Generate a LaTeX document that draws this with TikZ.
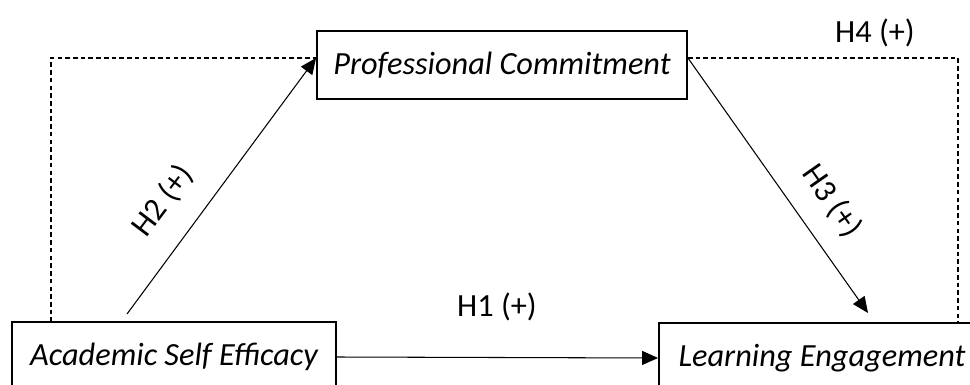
\documentclass[tikz,border=0pt]{standalone}
\usepackage{fontspec}
\setmainfont{Carlito}
\usetikzlibrary{arrows.meta}
\tikzset{>={Triangle[length=0.32cm,width=0.28cm]}}
\tikzset{varbox/.style={draw, line width=1.1pt, minimum height=1.4cm, inner sep=0pt, font=\fontsize{18.4}{22}\selectfont\itshape},
  hyplabel/.style={font=\fontsize{18.4}{22}\selectfont},
  link/.style={->, line width=0.6pt},
  mediation/.style={line width=0.6pt, dash pattern=on 2.6pt off 1.8pt}}

\begin{document}
\begin{tikzpicture}[x=0.02cm, y=-0.02cm]
\useasboundingbox (0,0) rectangle (970,385);
\node[varbox, minimum width=7.4cm, minimum height=1.36cm] (PC) at (502,65) {Professional Commitment};
\node[varbox, minimum width=6.48cm] (ASE) at (174,357) {Academic Self Efficacy};
\node[varbox, minimum width=6.52cm] (LE) at (822,358) {Learning Engagement};
\coordinate (tl) at (51,322);
\coordinate (tr) at (958,323);
\coordinate (h2from) at (127,314);
\coordinate (h3to) at (868,313);
\draw[mediation] (tl) |- ([yshift=0.14cm]PC.west);
\draw[mediation] ([yshift=0.14cm]PC.east) -| (tr);
\draw[link] (ASE.east) -- (LE.west);
\draw[link] (h2from) -- ([yshift=0.14cm]PC.west);
\draw[link] ([yshift=0.14cm]PC.east) -- (h3to);
\node[hyplabel] (h1) at (497,307) {H1 (+)};
\node[hyplabel, rotate=53] (h2) at (163,201) {H2 (+)};
\node[hyplabel, rotate=-55] (h3) at (832,201) {H3 (+)};
\node[hyplabel] (h4) at (875,33) {H4 (+)};
\end{tikzpicture}
\end{document}
